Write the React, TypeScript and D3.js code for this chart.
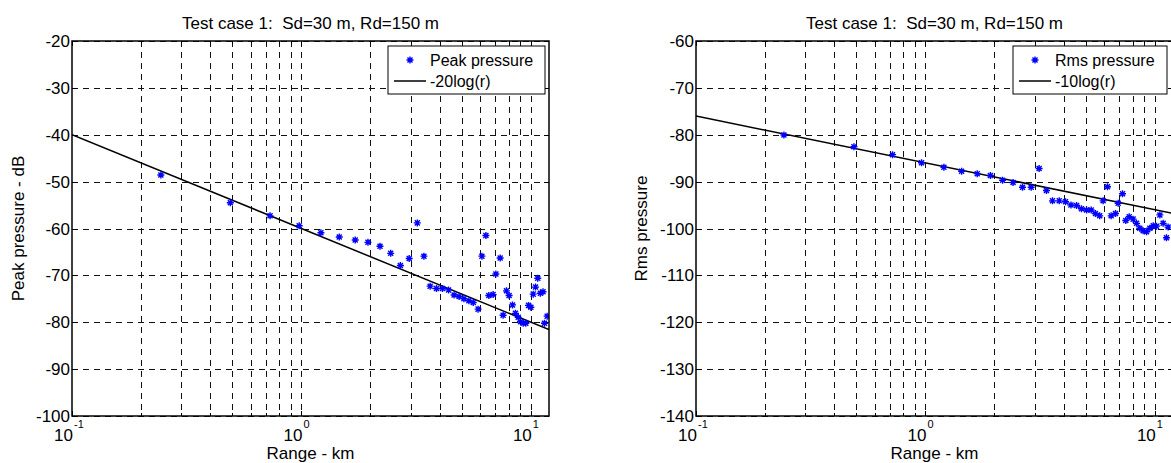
import React from "react";
import * as d3 from "d3";

const peakRange = [0.244, 0.49, 0.73, 0.978, 1.216, 1.462, 1.716, 1.95, 2.2, 2.45, 2.7, 2.95, 3.2, 3.42, 3.64, 3.88, 4.12, 4.38, 4.63, 4.87, 5.11, 5.37, 5.61, 5.89, 6.12, 6.37, 6.56, 6.85, 7.04, 7.35, 7.57, 7.83, 8.04, 8.32, 8.57, 8.81, 9.02, 9.26, 9.51, 9.77, 10.0, 10.24, 10.48, 10.72, 11.0, 11.3, 11.47, 11.78];
const peakValues = [-48.6, -54.5, -57.3, -59.4, -60.9, -61.8, -62.45, -62.95, -63.8, -65.3, -67.9, -66.4, -58.8, -65.9, -72.3, -72.8, -72.8, -73.1, -74.2, -74.5, -75.0, -75.4, -75.8, -77.2, -65.9, -61.5, -74.3, -74.1, -69.7, -66.3, -78.5, -73.3, -74.3, -76.3, -78.1, -78.95, -79.9, -80.2, -80.2, -76.4, -76.8, -74.0, -72.5, -70.6, -73.8, -73.5, -80.2, -78.7];

const rmsRange = [0.2417, 0.488, 0.719, 0.962, 1.204, 1.438, 1.682, 1.92, 2.17, 2.41, 2.65, 2.89, 3.13, 3.37, 3.58, 3.83, 4.08, 4.31, 4.56, 4.79, 5.04, 5.28, 5.51, 5.75, 5.95, 6.22, 6.45, 6.74, 6.92, 7.23, 7.47, 7.73, 8.04, 8.32, 8.6, 8.89, 9.2, 9.51, 9.84, 10.17, 10.52, 10.87, 11.24, 11.42];
const rmsValues = [-80.05, -82.55, -84.25, -85.96, -86.95, -87.8, -88.3, -88.7, -89.7, -90.2, -91.2, -91.2, -87.2, -91.9, -94.1, -94.1, -94.3, -95.0, -95.1, -95.8, -96.05, -96.05, -96.8, -97.3, -94.1, -91.1, -97.3, -96.8, -94.6, -92.6, -98.3, -97.5, -98.0, -98.9, -99.96, -100.5, -100.7, -99.96, -99.4, -99.5, -97.1, -98.9, -101.96, -99.7];

// reference lines (endpoints on log-x axis)
const refLineRange = [0.1, 12];
const peakRefLine = [-40, -81.58];
const rmsRefLine = [-76, -96.79];

const xDomain = [0.1, 12];
const peakYDomain = [-100, -20];
const rmsYDomain = [-140, -60];
const peakYTicks = [-100, -90, -80, -70, -60, -50, -40, -30, -20];
const rmsYTicks = [-140, -130, -120, -110, -100, -90, -80, -70, -60];
const xMajorTicks = [0.1, 1, 10];
const xMajorExp = ["-1", "0", "1"];
const xMinorTicks = [0.2, 0.3, 0.4, 0.5, 0.6, 0.7, 0.8, 0.9, 2, 3, 4, 5, 6, 7, 8, 9];

const titleText = "Test case 1:  Sd=30 m, Rd=150 m";
const FONT = "Arial, 'Liberation Sans', Helvetica, sans-serif";

function starPath(s: number) {
  const d = s * 0.72;
  return `M${-s},0H${s}M0,${-s}V${s}M${-d},${-d}L${d},${d}M${-d},${d}L${d},${-d}`;
}

const crisp = (v: number) => Math.round(v) + 0.5;

type PanelProps = {
  left: number;
  top: number;
  width: number;
  height: number;
  yDomain: number[];
  yTicks: number[];
  xs: number[];
  ys: number[];
  lineYs: number[];
  yLabel: string;
  yLabelX: number;
  legendMarker: string;
  legendLine: string;
  legendBox: { x: number; w: number };
  id: string;
};

function Panel(p: PanelProps) {
  const x = d3.scaleLog().domain(xDomain).range([p.left, p.left + p.width]);
  const y = d3.scaleLinear().domain(p.yDomain).range([p.top + p.height, p.top]);
  const bottom = p.top + p.height;
  const right = p.left + p.width;
  const line = d3
    .line<number>()
    .x((_, i) => x(refLineRange[i]))
    .y((v) => y(v));
  const star = starPath(3.5);
  const grid = "#111";
  const dash = "6,5";
  const lg = p.legendBox;
  return (
    <g>
      <defs>
        <clipPath id={`clip-${p.id}`}>
          <rect x={p.left} y={p.top} width={p.width} height={p.height} />
        </clipPath>
      </defs>
      {/* grid */}
      {p.yTicks.map((t) => (
        <line key={"hy" + t} x1={p.left} x2={right} y1={crisp(y(t))} y2={crisp(y(t))} stroke={grid} strokeWidth={1} strokeDasharray={dash} />
      ))}
      {[...xMajorTicks, ...xMinorTicks].filter((t) => t > xDomain[0]).map((t) => (
        <line key={"vx" + t} x1={crisp(x(t))} x2={crisp(x(t))} y1={p.top} y2={bottom} stroke={grid} strokeWidth={1} strokeDasharray={dash} />
      ))}
      {/* ticks */}
      {p.yTicks.map((t) => (
        <g key={"ty" + t}>
          <line x1={p.left} x2={p.left + 5} y1={crisp(y(t))} y2={crisp(y(t))} stroke="#000" strokeWidth={1} />
          <line x1={right} x2={right - 5} y1={crisp(y(t))} y2={crisp(y(t))} stroke="#000" strokeWidth={1} />
        </g>
      ))}
      {xMajorTicks.map((t) => (
        <g key={"tx" + t}>
          <line x1={crisp(x(t))} x2={crisp(x(t))} y1={bottom} y2={bottom - 5} stroke="#000" strokeWidth={1} />
          <line x1={crisp(x(t))} x2={crisp(x(t))} y1={p.top} y2={p.top + 5} stroke="#000" strokeWidth={1} />
        </g>
      ))}
      {xMinorTicks.map((t) => (
        <g key={"tm" + t}>
          <line x1={crisp(x(t))} x2={crisp(x(t))} y1={bottom} y2={bottom - 3} stroke="#000" strokeWidth={1} />
          <line x1={crisp(x(t))} x2={crisp(x(t))} y1={p.top} y2={p.top + 3} stroke="#000" strokeWidth={1} />
        </g>
      ))}
      {/* data */}
      <g clipPath={`url(#clip-${p.id})`}>
        <path d={line(p.lineYs) || ""} fill="none" stroke="#000" strokeWidth={1.5} />
        {p.xs.map((v, i) => (
          <path key={"pt" + i} d={star} transform={`translate(${x(v)},${y(p.ys[i])})`} fill="none" stroke="#0000ff" strokeWidth={1.4} />
        ))}
      </g>
      {/* box */}
      <rect x={p.left} y={p.top} width={p.width} height={p.height} fill="none" stroke="#000" strokeWidth={1.5} />
      {/* y tick labels */}
      {p.yTicks.map((t) => (
        <text key={"ly" + t} x={p.left - 2} y={y(t)} dy="0.36em" textAnchor="end" fontSize={17} fontFamily={FONT}>
          {t}
        </text>
      ))}
      {/* x tick labels */}
      {xMajorTicks.map((t, i) => (
        <g key={"lx" + t}>
          <text x={x(t) + 1} y={441} textAnchor="end" fontSize={17} fontFamily={FONT}>
            10
          </text>
          <text x={x(t) + 2} y={428} textAnchor="start" fontSize={11} fontFamily={FONT}>
            {xMajorExp[i]}
          </text>
        </g>
      ))}
      {/* title */}
      <text x={p.left + p.width / 2} y={29} textAnchor="middle" fontSize={17} fontFamily={FONT} style={{ whiteSpace: "pre" }}>
        {titleText}
      </text>
      {/* x label */}
      <text x={p.left + p.width / 2} y={459} textAnchor="middle" fontSize={17} fontFamily={FONT}>
        Range - km
      </text>
      {/* y label */}
      <text transform={`translate(${p.yLabelX},${p.top + p.height / 2}) rotate(-90)`} textAnchor="middle" fontSize={17} fontFamily={FONT}>
        {p.yLabel}
      </text>
      {/* legend */}
      <rect x={lg.x} y={46} width={lg.w} height={48} fill="#fff" stroke="#000" strokeWidth={1} />
      <path d={star} transform={`translate(${lg.x + 22},60)`} fill="none" stroke="#0000ff" strokeWidth={1.4} />
      <text x={lg.x + 42} y={66} fontSize={16} fontFamily={FONT}>
        {p.legendMarker}
      </text>
      <line x1={lg.x + 6} x2={lg.x + 38} y1={81} y2={81} stroke="#000" strokeWidth={1.5} />
      <text x={lg.x + 42} y={87} fontSize={16} fontFamily={FONT}>
        {p.legendLine}
      </text>
    </g>
  );
}

export default function App() {
  return (
    <svg
      width={1171}
      height={463}
      style={{ position: "absolute", left: 0, top: 0, background: "#fff" }}
    >
      <rect x={0} y={0} width={1171} height={463} fill="#fff" />
      <Panel
        id="peak"
        left={72}
        top={41}
        width={477}
        height={375}
        yDomain={peakYDomain}
        yTicks={peakYTicks}
        xs={peakRange}
        ys={peakValues}
        lineYs={peakRefLine}
        yLabel="Peak pressure - dB"
        yLabelX={24}
        legendMarker="Peak pressure"
        legendLine="-20log(r)"
        legendBox={{ x: 388, w: 157 }}
      />
      <Panel
        id="rms"
        left={696}
        top={41}
        width={477}
        height={375}
        yDomain={rmsYDomain}
        yTicks={rmsYTicks}
        xs={rmsRange}
        ys={rmsValues}
        lineYs={rmsRefLine}
        yLabel="Rms pressure"
        yLabelX={647}
        legendMarker="Rms pressure"
        legendLine="-10log(r)"
        legendBox={{ x: 1013, w: 154 }}
      />
    </svg>
  );
}
